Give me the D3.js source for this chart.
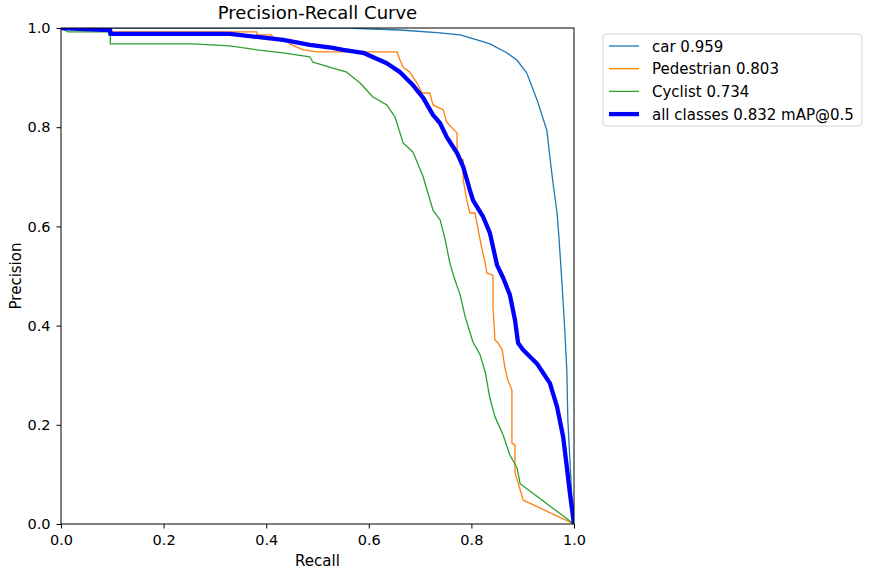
<!DOCTYPE html>
<html>
<head>
<meta charset="utf-8">
<script src="https://cdnjs.cloudflare.com/ajax/libs/d3/7.8.5/d3.min.js"></script>
<style>
    body { margin: 0; background: #fff; }
    svg { font-family: "DejaVu Sans", sans-serif; }
</style>
</head>
<body>
<div id="chart"></div>
<script>

// PR curve values (recall, precision)
var carRecall = [0, 0.271, 0.466, 0.557, 0.661, 0.739, 0.778, 0.811, 0.836, 0.869, 0.889, 0.908, 0.928,
    0.947, 0.953, 0.959, 0.967, 0.971, 0.977, 0.982, 0.986, 0.988, 0.992, 0.996, 0.998, 1.0];
var carPrecision = [1.0, 1.0, 1.0, 1.0, 0.996, 0.990, 0.986, 0.976, 0.968, 0.950, 0.935, 0.909, 0.855,
    0.794, 0.740, 0.688, 0.627, 0.573, 0.478, 0.391, 0.310, 0.210, 0.129, 0.048, 0.022, 0];

var pedRecall = [0, 0.096, 0.096, 0.382, 0.382, 0.411, 0.411, 0.437, 0.446, 0.472, 0.499, 0.655, 0.661,
    0.667, 0.680, 0.694, 0.704, 0.719, 0.725, 0.745, 0.752, 0.772, 0.772, 0.784, 0.784, 0.791, 0.797,
    0.807, 0.817, 0.821, 0.827, 0.830, 0.842, 0.842, 0.846, 0.852, 0.860, 0.865, 0.871, 0.879, 0.879,
    0.885, 0.885, 0.891, 0.895, 0.901, 1.0];
var pedPrecision = [1.0, 0.996, 0.992, 0.992, 0.986, 0.986, 0.982, 0.976, 0.968, 0.956, 0.952, 0.952, 0.935,
    0.921, 0.911, 0.889, 0.869, 0.869, 0.845, 0.835, 0.810, 0.788, 0.740, 0.734, 0.694, 0.653, 0.627,
    0.627, 0.573, 0.552, 0.526, 0.506, 0.502, 0.438, 0.371, 0.365, 0.351, 0.317, 0.290, 0.270, 0.163,
    0.159, 0.103, 0.083, 0.069, 0.048, 0];

var cycRecall = [0, 0.014, 0.096, 0.096, 0.257, 0.329, 0.382, 0.433, 0.485, 0.491, 0.530, 0.557, 0.583,
    0.608, 0.635, 0.651, 0.667, 0.686, 0.706, 0.725, 0.739, 0.749, 0.758, 0.768, 0.778, 0.788, 0.803,
    0.817, 0.827, 0.836, 0.846, 0.862, 0.875, 0.889, 0.895, 1.0];
var cycPrecision = [1.0, 0.992, 0.992, 0.968, 0.968, 0.964, 0.956, 0.950, 0.942, 0.931, 0.919, 0.911, 0.889,
    0.861, 0.845, 0.821, 0.768, 0.750, 0.700, 0.633, 0.613, 0.573, 0.526, 0.492, 0.462, 0.417, 0.367,
    0.341, 0.306, 0.254, 0.216, 0.179, 0.139, 0.113, 0.081, 0];

var allRecall = [0, 0.096, 0.096, 0.329, 0.382, 0.433, 0.485, 0.530, 0.550, 0.589, 0.635, 0.661, 0.686,
    0.706, 0.725, 0.739, 0.752, 0.772, 0.784, 0.797, 0.803, 0.823, 0.836, 0.850, 0.862, 0.875, 0.885,
    0.891, 0.901, 0.928, 0.953, 0.967, 0.979, 0.986, 0.992, 1.0];
var allPrecision = [1.0, 0.996, 0.988, 0.988, 0.982, 0.976, 0.966, 0.960, 0.956, 0.950, 0.929, 0.911, 0.885,
    0.859, 0.825, 0.808, 0.780, 0.748, 0.720, 0.673, 0.653, 0.619, 0.587, 0.522, 0.496, 0.462, 0.411,
    0.365, 0.351, 0.323, 0.284, 0.236, 0.175, 0.115, 0.062, 0];

var seriesNames = ["car 0.959", "Pedestrian 0.803", "Cyclist 0.734", "all classes 0.832 mAP@0.5"];
var tickValues = [0, 0.2, 0.4, 0.6, 0.8, 1.0];

var series = [
    {name: seriesNames[0], r: carRecall, p: carPrecision, color: "#1f77b4", width: 1.3},
    {name: seriesNames[1], r: pedRecall, p: pedPrecision, color: "#ff7f0e", width: 1.3},
    {name: seriesNames[2], r: cycRecall, p: cycPrecision, color: "#2ca02c", width: 1.3},
    {name: seriesNames[3], r: allRecall, p: allPrecision, color: "#0000ff", width: 4.3}
];

var margin = {top: 28, right: 298, bottom: 50, left: 61},
    width = 872 - margin.left - margin.right,
    height = 574 - margin.top - margin.bottom;

var svg = d3.select("#chart").append("svg")
    .attr("width", 872)
    .attr("height", 574);

var g = svg.append("g")
    .attr("transform", "translate(" + margin.left + "," + margin.top + ")");

var x = d3.scaleLinear().domain([0, 1]).range([0, width]);
var y = d3.scaleLinear().domain([0, 1]).range([height, 0]);

// clip the curves to the axes box like matplotlib does
g.append("clipPath").attr("id", "plot-clip")
    .append("rect")
    .attr("width", width)
    .attr("height", height);

var line = d3.line()
    .x(function(d) { return x(d[0]); })
    .y(function(d) { return y(d[1]); });

g.append("g")
    .attr("clip-path", "url(#plot-clip)")
    .selectAll("path.curve")
    .data(series)
    .enter().append("path")
    .attr("class", "curve")
    .attr("fill", "none")
    .attr("stroke", function(d) { return d.color; })
    .attr("stroke-width", function(d) { return d.width; })
    .attr("stroke-linejoin", "round")
    .attr("d", function(d) {
        return line(d.r.map(function(v, i) { return [v, d.p[i]]; }));
    });

// axes
var xAxis = g.append("g")
    .attr("transform", "translate(0," + height + ")")
    .call(d3.axisBottom(x).tickValues(tickValues).tickFormat(d3.format(".1f")).tickSize(4.5).tickPadding(6));

var yAxis = g.append("g")
    .call(d3.axisLeft(y).tickValues(tickValues).tickFormat(d3.format(".1f")).tickSize(4.5).tickPadding(6));

[xAxis, yAxis].forEach(function(a) {
    a.select(".domain").remove();
    a.selectAll(".tick line").attr("stroke", "#000").attr("stroke-width", 1);
    a.selectAll(".tick text")
        .attr("fill", "#000")
        .style("font-size", "14.5px")
        .style("font-family", "DejaVu Sans");
});

// frame on top of the curves
g.append("rect")
    .attr("width", width)
    .attr("height", height)
    .attr("fill", "none")
    .attr("stroke", "#000")
    .attr("stroke-width", 1);

// title and labels
g.append("text")
    .attr("x", width / 2)
    .attr("y", -9)
    .attr("text-anchor", "middle")
    .style("font-size", "18px")
    .text("Precision-Recall Curve");

g.append("text")
    .attr("x", width / 2)
    .attr("y", height + 42)
    .attr("text-anchor", "middle")
    .style("font-size", "15px")
    .text("Recall");

g.append("text")
    .attr("transform", "translate(-40," + (height / 2) + ") rotate(-90)")
    .attr("text-anchor", "middle")
    .style("font-size", "15px")
    .text("Precision");

// legend
var legend = svg.append("g")
    .attr("transform", "translate(603,34)");

legend.append("rect")
    .attr("width", 259)
    .attr("height", 92)
    .attr("rx", 3)
    .attr("fill", "#fff")
    .attr("stroke", "#d6d6d6")
    .attr("stroke-width", 1);

var items = legend.selectAll("g.item")
    .data(series)
    .enter().append("g")
    .attr("class", "item")
    .attr("transform", function(d, i) { return "translate(0," + (12 + i * 22.7) + ")"; });

items.append("line")
    .attr("x1", 6)
    .attr("x2", 36)
    .attr("stroke", function(d) { return d.color; })
    .attr("stroke-width", function(d) { return d.width; });

items.append("text")
    .attr("x", 49)
    .attr("y", 5.5)
    .style("font-size", "15px")
    .text(function(d) { return d.name; });

</script>
</body>
</html>
